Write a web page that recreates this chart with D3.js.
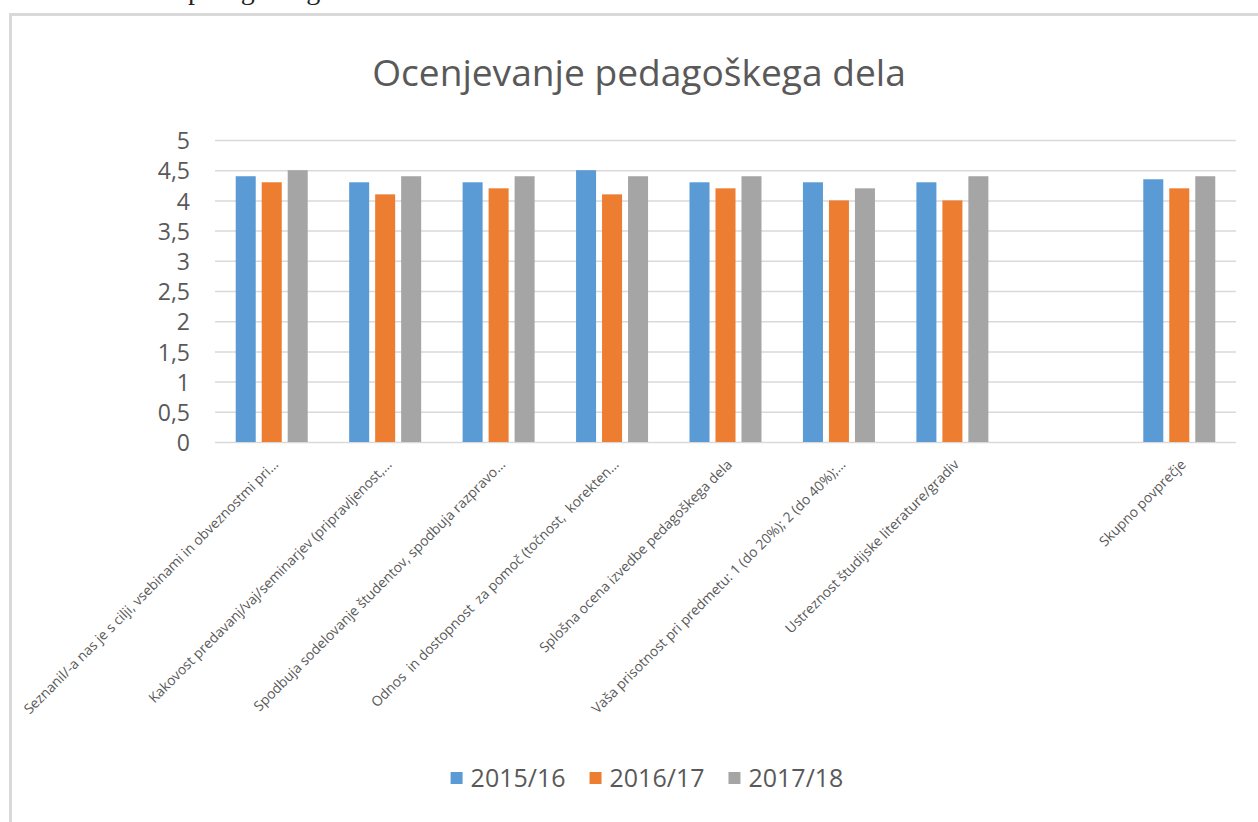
<!DOCTYPE html>
<html>
<head>
<meta charset="utf-8">
<script src="https://cdn.jsdelivr.net/npm/d3@7"></script>
<style>
  body { margin: 0; background: #fff; }
  svg { display: block; font-family: "Open Sans", sans-serif; }
  .cat-label { white-space: pre; }
</style>
</head>
<body>
<svg></svg>
<script>
const categories = [
  "Seznanil/-a nas je s cilji, vsebinami in obveznostmi pri…",
  "Kakovost predavanj/vaj/seminarjev (pripravljenost,…",
  "Spodbuja sodelovanje študentov, spodbuja razpravo…",
  "Odnos  in dostopnost  za pomoč (točnost,  korekten…",
  "Splošna ocena izvedbe pedagoškega dela",
  "Vaša prisotnost pri predmetu: 1 (do 20%); 2 (do 40%);…",
  "Ustreznost študijske literature/gradiv",
  "",
  "Skupno povprečje"
];
const seriesNames = ["2015/16", "2016/17", "2017/18"];
const values1516 = [4.4, 4.3, 4.3, 4.5, 4.3, 4.3, 4.3, null, 4.35];
const values1617 = [4.3, 4.1, 4.2, 4.1, 4.2, 4.0, 4.0, null, 4.2];
const values1718 = [4.5, 4.4, 4.4, 4.4, 4.4, 4.2, 4.4, null, 4.4];
const yTicks = [0, 0.5, 1, 1.5, 2, 2.5, 3, 3.5, 4, 4.5, 5];
const colors = ["#5b9bd5", "#ed7d31", "#a5a5a5"];

const seriesValues = [values1516, values1617, values1718];

const svg = d3.select("svg").attr("width", 1258).attr("height", 822);

// bottom of a line of document text above the chart (cut off, as in the page)
svg.append("text")
  .attr("x", 188)
  .attr("y", -1)
  .style("font-family", "'Liberation Serif', serif")
  .style("font-size", "28px")
  .attr("fill", "#222")
  .text("pedagoškega dela");

// chart frame
svg.append("rect")
  .attr("x", 10.5)
  .attr("y", 14.5)
  .attr("width", 1400)
  .attr("height", 1000)
  .attr("fill", "#fff")
  .attr("stroke", "#d9d9d9")
  .attr("stroke-width", 3);

const fit = function(sel, target) {
  const size = parseFloat(sel.style("font-size"));
  const w = sel.node().getComputedTextLength();
  sel.style("font-size", (size * target / w) + "px");
};

const title = svg.append("text")
  .attr("x", 639)
  .attr("y", 86)
  .attr("text-anchor", "middle")
  .attr("fill", "#595959")
  .style("font-size", "36px")
  .text("Ocenjevanje pedagoškega dela");
fit(title, 534);

const scaleX = d3.scaleBand()
  .domain(d3.range(categories.length))
  .range([215, 1236])
  .padding(0);

const scaleX1 = d3.scaleBand()
  .domain(d3.range(seriesNames.length))
  .range([-36, 36])
  .paddingInner(0.23)
  .paddingOuter(0);

const scaleY = d3.scaleLinear()
  .domain([0, 5])
  .range([442, 140]);

const locale = d3.formatLocale({ decimal: ",", thousands: ".", grouping: [3], currency: ["", "€"] });
const fmt = locale.format("~g");

const axisY = d3.axisLeft(scaleY)
  .tickValues(yTicks)
  .tickSizeInner(-(1236 - 215))
  .tickSizeOuter(0)
  .tickPadding(25)
  .tickFormat(fmt);

const axisYGroup = svg.append("g")
  .attr("class", "y-axis")
  .attr("transform", "translate(215,0)")
  .call(axisY);

axisYGroup.select(".domain").remove();
axisYGroup.selectAll(".tick line")
  .attr("stroke", "#d9d9d9")
  .attr("stroke-width", 1.5);
axisYGroup.selectAll(".tick text")
  .attr("fill", "#595959")
  .attr("dy", "0.38em")
  .style("font-family", "'Open Sans', sans-serif")
  .style("font-size", "23px");

// bars
const groups = svg.selectAll("g.cat")
  .data(categories.map((c, i) => i))
  .enter()
  .append("g")
  .attr("class", "cat")
  .attr("transform", i => `translate(${scaleX(i) + scaleX.bandwidth() / 2},0)`);

groups.selectAll("rect")
  .data(i => seriesValues.map((vals, s) => ({ s: s, v: vals[i] })).filter(d => d.v != null))
  .enter()
  .append("rect")
  .attr("x", d => scaleX1(d.s))
  .attr("width", scaleX1.bandwidth())
  .attr("y", d => scaleY(d.v))
  .attr("height", d => scaleY(0) - scaleY(d.v))
  .attr("fill", d => colors[d.s]);

// category labels
const labels = svg.selectAll("text.cat-label")
  .data(categories)
  .enter()
  .append("text")
  .attr("class", "cat-label")
  .attr("text-anchor", "end")
  .attr("fill", "#595959")
  .attr("dy", "0.35em")
  .style("font-size", "12px")
  .attr("transform", (d, i) => `translate(${scaleX(i) + scaleX.bandwidth() / 2 + 4},462) rotate(-45)`)
  .text(d => d);

const ref = labels.filter((d, i) => i === 4);
const refSize = parseFloat(ref.style("font-size"));
const refW = ref.node().getComputedTextLength();
labels.style("font-size", (refSize * 266 / refW) + "px");

// legend
const legend = svg.append("g").attr("class", "legend");
const items = legend.selectAll("g")
  .data(seriesNames)
  .enter()
  .append("g");

items.append("rect")
  .attr("width", 12)
  .attr("height", 12)
  .attr("y", -6)
  .attr("fill", (d, i) => colors[i]);

const legendText = items.append("text")
  .attr("x", 20)
  .attr("dy", "0.35em")
  .attr("fill", "#595959")
  .style("font-size", "22px")
  .text(d => d);
fit(legendText.filter((d, i) => i === 0), 95);
legendText.style("font-size", legendText.filter((d, i) => i === 0).style("font-size"));

let lx = 0;
const offsets = [];
items.each(function(d, i) {
  const w = 20 + d3.select(this).select("text").node().getComputedTextLength();
  offsets.push(lx);
  lx += w + 24;
});
const totalW = lx - 24;
items.attr("transform", (d, i) => `translate(${offsets[i]},0)`);
legend.attr("transform", `translate(${647 - totalW / 2},778)`);
</script>
</body>
</html>
